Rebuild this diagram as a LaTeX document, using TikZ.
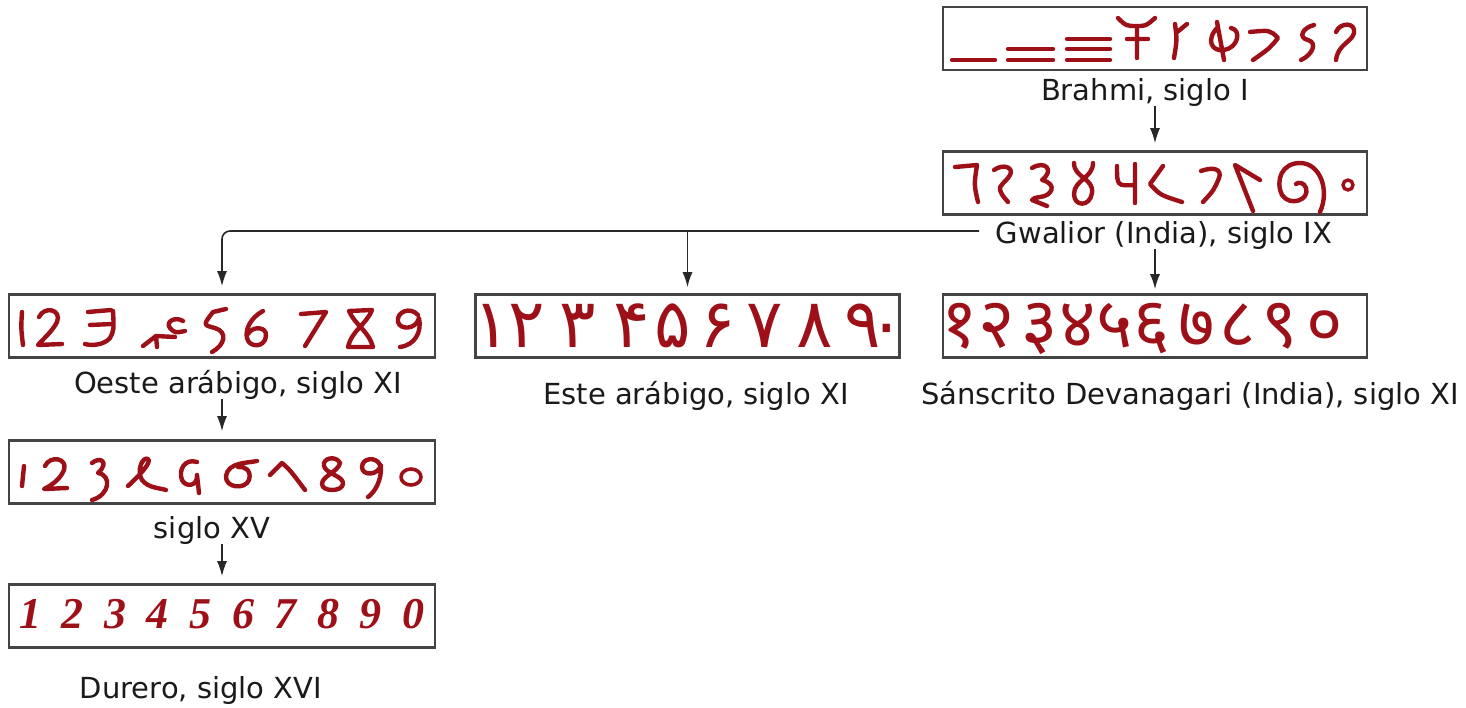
\documentclass[tikz,border=0pt]{standalone}
\usepackage{fontspec}
\setmainfont{DejaVu Sans}
\newfontfamily\arabicfont[Script=Arabic]{DejaVu Sans}
\newfontfamily\devafont[Script=Devanagari]{Noto Sans}
\newfontfamily\durerfont{Liberation Serif}
\usetikzlibrary{arrows.meta}
\definecolor{numred}{RGB}{158,16,24}
\definecolor{framegray}{RGB}{68,68,68}
\definecolor{inkblack}{RGB}{26,26,26}
\definecolor{linkgray}{RGB}{40,40,40}

\begin{document}
\begin{tikzpicture}[x=1pt,y=-1pt,
  numbox/.style={draw=framegray, line width=2.6pt, fill=white, minimum width=424pt, minimum height=63pt, inner sep=0pt},
  caption/.style={anchor=base, inner sep=0pt, text=inkblack, font=\fontsize{29}{34}\selectfont},
  ink/.style={draw=numred, line width=4.4pt, line cap=round, line join=round},
  digit/.style={anchor=base, inner sep=0pt, text=numred},
  link/.style={draw=linkgray, line width=1.6pt},
  arr/.style={link, -{Latex[length=15pt,width=10pt]}},
]
\fill[white] (0,0) rectangle (1466,707);
\useasboundingbox (0,0) rectangle (1466,707);

% numeral boxes
\node[numbox] (brahmi) at (1155,38.5) {};
\node[numbox] (gwalior) at (1155,183) {};
\node[numbox, minimum width=426pt] (oeste) at (222,326) {};
\node[numbox] (este) at (687.5,326) {};
\node[numbox] (sanskrit) at (1155,326) {};
\node[numbox, minimum width=426pt] (xv) at (222,472) {};
\node[numbox, minimum width=426pt] (durero) at (222,616) {};

% captions
\node[caption] (brahmiL) at (1145,100) {Brahmi, siglo I};
\node[caption] (gwaliorL) at (1164,243) {Gwalior (India), siglo IX};
\node[caption] (oesteL) at (238,393) {Oeste arábigo, siglo XI};
\node[caption] (esteL) at (696,404) {Este arábigo, siglo XI};
\node[caption] (sanskritL) at (1190,404) {Sánscrito Devanagari (India), siglo XI};
\node[caption] (xvL) at (212,538) {siglo XV};
\node[caption] (dureroL) at (201,698) {Durero, siglo XVI};

% connectors
\coordinate (split) at (979,231);
\draw[arr, shorten >=7pt] (brahmiL.south -| brahmi.south) -- (gwalior.north);
\draw[arr, rounded corners=8pt, shorten >=7pt] (split) -| (oeste.north);
\draw[arr, shorten >=6pt] (este.north |- split) -- (este.north);
\draw[arr, shorten >=4pt] (gwaliorL.south -| sanskrit.north) -- (sanskrit.north);
\draw[arr, shorten >=8pt] (oesteL.south -| xv.north) -- (xv.north);
\draw[arr, shorten >=7pt] (xvL.south -| durero.north) -- (durero.north);

% Brahmi numerals
\draw[ink] (952,60) -- (995,60);
\draw[ink] (1008,49) -- (1053,49) (1008,60) -- (1053,60);
\draw[ink] (1067,39) -- (1110,39) (1067,49) -- (1110,49) (1067,60) -- (1110,60);
\draw[ink] (1118,18) .. controls (1126,26) .. (1137,26) .. controls (1146,26) .. (1155,18)
  (1137,26) -- (1137,58) (1127,39) -- (1148,39);
\draw[ink] (1175,24) .. controls (1177,40) .. (1174,58) (1176,33) -- (1187,24);
\draw[ink] (1217,22) -- (1224,60)
  (1218,27) .. controls (1205,40) and (1212,52) .. (1224,50) .. controls (1238,48) and (1242,30) .. (1231,28);
\draw[ink] (1250,32) .. controls (1270,30) .. (1278,38) .. controls (1270,48) .. (1253,60);
\draw[ink] (1314,25) .. controls (1302,28) and (1298,38) .. (1308,40) .. controls (1318,43) and (1312,55) .. (1301,60);
\draw[ink] (1336,32) .. controls (1340,22) and (1356,22) .. (1354,33) .. controls (1352,42) and (1338,44) .. (1336,60);

% Gwalior numerals
\draw[ink] (955,167) -- (977,165) .. controls (974,185) .. (978,202);
\draw[ink] (994,170) .. controls (1004,163) and (1014,168) .. (1010,175) .. controls (1006,182) and (998,186) .. (1000,190) .. controls (1002,195) .. (1008,202);
\draw[ink] (1032,168) .. controls (1045,160) and (1055,170) .. (1042,180) .. controls (1058,184) and (1052,196) .. (1040,197) .. controls (1034,198) .. (1032,200) -- (1047,206);
\draw[ink] (1074,163) .. controls (1074,178) and (1094,178) .. (1092,193) .. controls (1090,207) and (1074,207) .. (1074,194) .. controls (1074,180) and (1093,178) .. (1093,163);
\draw[ink] (1117,166) .. controls (1117,186) .. (1135,185) (1135,164) -- (1135,203);
\draw[ink] (1163,166) -- (1150,184) .. controls (1160,195) .. (1182,202);
\draw[ink] (1201,171) .. controls (1215,166) and (1222,170) .. (1219,178) .. controls (1214,190) .. (1203,202);
\draw[ink] (1253,211) -- (1235,165) -- (1260,180);
\draw[ink] (1320,212) .. controls (1330,190) and (1320,163) .. (1300,163) .. controls (1282,163) and (1275,180) .. (1282,195) .. controls (1290,207) and (1310,200) .. (1306,188) .. controls (1304,182) and (1298,182) .. (1296,184);
\draw[ink, line width=3.4pt] (1348,185) circle (5pt);

% western Arabic numerals
\draw[ink] (22,312) .. controls (21,328) .. (23,345);
\draw[ink] (39,317) .. controls (45,305) and (62,310) .. (57,322) .. controls (52,332) and (42,340) .. (38,345) -- (62,344);
\draw[ink] (88,312) -- (111,310) (90,325) -- (112,324)
  (113,311) .. controls (114,330) .. (110,338) .. controls (104,345) and (92,346) .. (85,344);
\draw[ink] (143,346) -- (156,336) -- (175,337) (156,336) -- (157,347)
  (183,321) .. controls (175,316) and (165,322) .. (170,328) .. controls (175,333) .. (185,331);
\draw[ink] (213,312) -- (226,309)
  (213,312) .. controls (203,325) .. (215,328) .. controls (228,332) and (225,345) .. (212,352);
\draw[ink] (263,311) .. controls (250,318) and (245,330) .. (247,338) .. controls (249,348) and (265,348) .. (266,336) .. controls (267,326) and (252,326) .. (248,334);
\draw[ink] (301,314) -- (326,312) .. controls (318,325) .. (305,346);
\draw[ink] (349,311) -- (372,310) .. controls (366,325) and (352,330) .. (348,347) -- (373,347) .. controls (368,330) and (355,325) .. cycle;
\draw[ink] (418,315) .. controls (410,306) and (396,312) .. (398,322) .. controls (400,330) and (416,330) .. (419,318) .. controls (422,332) and (415,345) .. (400,347);

% eastern Arabic numerals
\foreach \d/\x [count=\i] in {۱/492,۲/527,۳/578,۴/632,۵/673,۶/718,۷/765,۸/815,۹/863,۰/887}
  \node[digit, font=\arabicfont\fontsize{68}{68}\selectfont] (east\i) at (\x,347) {\d};

% Devanagari numerals
\foreach \d/\x [count=\i] in {१/960,२/997,३/1040,४/1078,५/1115,६/1152,७/1197,८/1238,९/1280,०/1325}
  \node[digit, font=\devafont\fontsize{70}{70}\selectfont] (deva\i) at (\x,347) {\d};

% fifteenth-century numerals
\draw[ink] (24,466) -- (22,486);
\draw[ink] (45,466) .. controls (50,455) and (68,458) .. (64,470) .. controls (60,480) and (50,486) .. (44,489) -- (67,488);
\draw[ink] (92,463) .. controls (100,456) and (110,462) .. (98,473) .. controls (112,475) and (110,495) .. (92,500);
\draw[ink] (128,486) .. controls (140,475) and (152,462) .. (148,459) .. controls (143,456) and (136,470) .. (142,480) .. controls (148,488) and (160,488) .. (166,490);
\draw[ink] (197,462) .. controls (185,458) and (178,470) .. (182,480) .. controls (186,488) and (198,486) .. (197,475) -- (199,493);
\draw[ink] (257,461) .. controls (248,463) and (228,462) .. (226,476) .. controls (225,488) and (245,490) .. (249,480) .. controls (252,470) and (244,466) .. (238,467);
\draw[ink] (270,475) -- (282,463) .. controls (290,470) .. (305,490);
\draw[ink] (340,463) .. controls (336,455) and (322,458) .. (324,466) .. controls (326,474) and (344,476) .. (343,484) .. controls (342,492) and (322,492) .. (322,484) .. controls (322,476) and (338,472) .. (340,463);
\draw[ink] (380,465) .. controls (376,456) and (362,458) .. (362,467) .. controls (362,476) and (378,476) .. (381,465) .. controls (382,480) and (375,492) .. (368,497);
\draw[ink, line width=3.6pt] (411,477) ellipse (10pt and 8pt);

% Durer's numerals
\foreach \d [count=\i from 0] in {1,2,3,4,5,6,7,8,9,0}
  \node[digit, font=\durerfont\bfseries\itshape\fontsize{44}{44}\selectfont] (dur\i) at (30+42.6*\i,628) {\d};
\end{tikzpicture}
\end{document}
